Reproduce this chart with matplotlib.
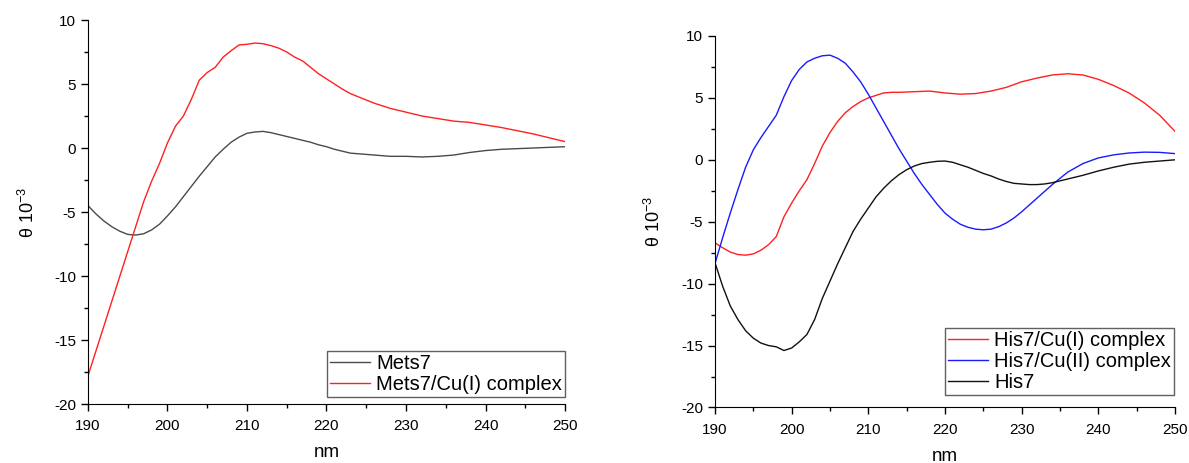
import numpy as np
import matplotlib
matplotlib.use("Agg")
import matplotlib.pyplot as plt
from matplotlib.ticker import MultipleLocator

plt.rcParams["font.family"] = ["Liberation Sans", "DejaVu Sans"]
plt.rcParams["axes.unicode_minus"] = False

# left panel: Mets7
metsWave = [190, 191, 192, 193, 194, 195, 196, 197, 198, 199, 200, 201, 202, 203, 204, 205,
            206, 207, 208, 209, 210, 211, 212, 213, 214, 215, 216, 217, 218, 219, 220, 221,
            222, 223, 224, 226, 228, 230, 232, 234, 236, 238, 240, 242, 244, 246, 248, 250]
metsFree = [-4.5, -5.15, -5.7, -6.15, -6.5, -6.75, -6.8, -6.7, -6.4, -5.95, -5.3, -4.6, -3.8,
            -3.0, -2.2, -1.45, -0.7, -0.1, 0.45, 0.85, 1.15, 1.25, 1.3, 1.2, 1.05, 0.9, 0.75,
            0.6, 0.45, 0.25, 0.1, -0.1, -0.25, -0.4, -0.45, -0.55, -0.65, -0.65, -0.7, -0.65,
            -0.55, -0.35, -0.2, -0.1, -0.05, 0.0, 0.05, 0.1]

metsCuWave = [190, 197, 198, 199, 200, 201, 202, 203, 204, 205, 206, 207, 208, 209, 210, 211,
              212, 213, 214, 215, 216, 217, 218, 219, 220, 221, 222, 223, 224, 226, 228, 230,
              232, 234, 236, 238, 240, 242, 244, 246, 248, 250]
metsCu = [-17.8, -4.2, -2.6, -1.2, 0.4, 1.7, 2.5, 3.8, 5.3, 5.9, 6.3, 7.1, 7.6, 8.05, 8.1, 8.2,
          8.15, 8.0, 7.8, 7.5, 7.1, 6.8, 6.3, 5.8, 5.4, 5.0, 4.6, 4.25, 4.0, 3.5, 3.1, 2.8,
          2.5, 2.3, 2.1, 2.0, 1.8, 1.6, 1.35, 1.1, 0.8, 0.5]

# right panel: His7
hisWave = [190, 191, 192, 193, 194, 195, 196, 197, 198, 199, 200, 201, 202, 203, 204, 205,
           206, 207, 208, 209, 210, 211, 212, 213, 214, 215, 216, 217, 218, 219, 220, 221,
           222, 223, 224, 225, 226, 227, 228, 229, 230, 231, 232, 233, 234, 235, 236, 237,
           238, 240, 242, 244, 246, 248, 250]
hisFree = [-8.3, -10.2, -11.8, -12.9, -13.8, -14.4, -14.8, -15.0, -15.1, -15.4, -15.2, -14.7,
           -14.1, -12.9, -11.2, -9.8, -8.4, -7.1, -5.8, -4.8, -3.9, -3.0, -2.3, -1.7, -1.2,
           -0.8, -0.5, -0.3, -0.2, -0.12, -0.1, -0.2, -0.4, -0.6, -0.85, -1.1, -1.3, -1.55,
           -1.75, -1.9, -1.95, -2.0, -2.0, -1.95, -1.85, -1.7, -1.55, -1.4, -1.25, -0.9,
           -0.6, -0.35, -0.2, -0.1, 0.0]

hisCu1Wave = [190, 191, 192, 193, 194, 195, 196, 197, 198, 199, 200, 201, 202, 203, 204, 205,
              206, 207, 208, 209, 210, 211, 212, 213, 214, 216, 218, 220, 222, 224, 226, 228,
              230, 232, 234, 236, 238, 240, 242, 244, 246, 248, 250]
hisCu1 = [-6.7, -7.1, -7.45, -7.65, -7.7, -7.6, -7.3, -6.85, -6.2, -4.6, -3.5, -2.5, -1.6,
          -0.3, 1.1, 2.2, 3.1, 3.8, 4.3, 4.7, 5.0, 5.2, 5.4, 5.45, 5.45, 5.5, 5.55, 5.4, 5.3,
          5.35, 5.55, 5.85, 6.3, 6.6, 6.85, 6.95, 6.85, 6.5, 6.0, 5.4, 4.6, 3.6, 2.3]

hisCu2Wave = [190, 191, 192, 193, 194, 195, 196, 197, 198, 199, 200, 201, 202, 203, 204, 205,
              206, 207, 208, 209, 210, 211, 212, 213, 214, 215, 216, 217, 218, 219, 220, 221,
              222, 223, 224, 225, 226, 227, 228, 229, 230, 232, 234, 236, 238, 240, 242, 244,
              246, 248, 250]
hisCu2 = [-8.4, -6.3, -4.3, -2.4, -0.6, 0.8, 1.8, 2.7, 3.6, 5.1, 6.4, 7.3, 7.9, 8.2, 8.4, 8.45,
          8.2, 7.8, 7.1, 6.3, 5.3, 4.2, 3.1, 2.0, 0.9, -0.1, -1.1, -2.0, -2.8, -3.6, -4.3,
          -4.8, -5.2, -5.45, -5.6, -5.65, -5.6, -5.4, -5.1, -4.7, -4.2, -3.1, -2.0, -1.0,
          -0.3, 0.15, 0.4, 0.55, 0.62, 0.6, 0.5]


def styleAxes(ax):
    ax.spines["top"].set_visible(False)
    ax.spines["right"].set_visible(False)
    ax.set_xlim(190, 250)
    ax.set_ylim(-20, 10)
    ax.xaxis.set_major_locator(MultipleLocator(10))
    ax.xaxis.set_minor_locator(MultipleLocator(5))
    ax.yaxis.set_major_locator(MultipleLocator(5))
    ax.yaxis.set_minor_locator(MultipleLocator(2.5))
    ax.tick_params(which="major", direction="out", length=5, width=1, labelsize=11)
    ax.tick_params(which="minor", direction="out", length=3, width=1)
    ax.tick_params(axis="x", pad=6)
    ax.set_xlabel("nm", fontsize=13.5, labelpad=8)
    ax.set_ylabel(r"θ 10$^{\mathregular{-3}}$", fontsize=13, labelpad=12)


fig = plt.figure(figsize=(11.89, 4.63), dpi=100)

axLeft = fig.add_axes([0.0740, 0.1274, 0.4012, 0.8294])
axLeft.plot(metsWave, metsFree, color="#4a4a4a", lw=1.0, label="Mets7")
axLeft.plot(metsCuWave, metsCu, color="#ff2020", lw=1.0, label="Mets7/Cu(I) complex")
styleAxes(axLeft)
axLeft.legend(loc="lower right", bbox_to_anchor=(1.0, 0.018), fontsize=14.5,
              fancybox=False, edgecolor="#606060", framealpha=1,
              borderpad=0.15, labelspacing=0.1, handletextpad=0.3, borderaxespad=0)

axRight = fig.add_axes([0.6013, 0.1199, 0.3869, 0.8024])
axRight.plot(hisCu1Wave, hisCu1, color="#ff2020", lw=1.0, label="His7/Cu(I) complex")
axRight.plot(hisCu2Wave, hisCu2, color="#1a1aff", lw=1.0, label="His7/Cu(II) complex")
axRight.plot(hisWave, hisFree, color="#111111", lw=1.0, label="His7")
styleAxes(axRight)
axRight.legend(loc="lower right", bbox_to_anchor=(0.998, 0.034), fontsize=14.5,
               fancybox=False, edgecolor="#606060", framealpha=1,
               borderpad=0.15, labelspacing=0.1, handletextpad=0.3, borderaxespad=0)

fig.savefig("out.png", dpi=100)
